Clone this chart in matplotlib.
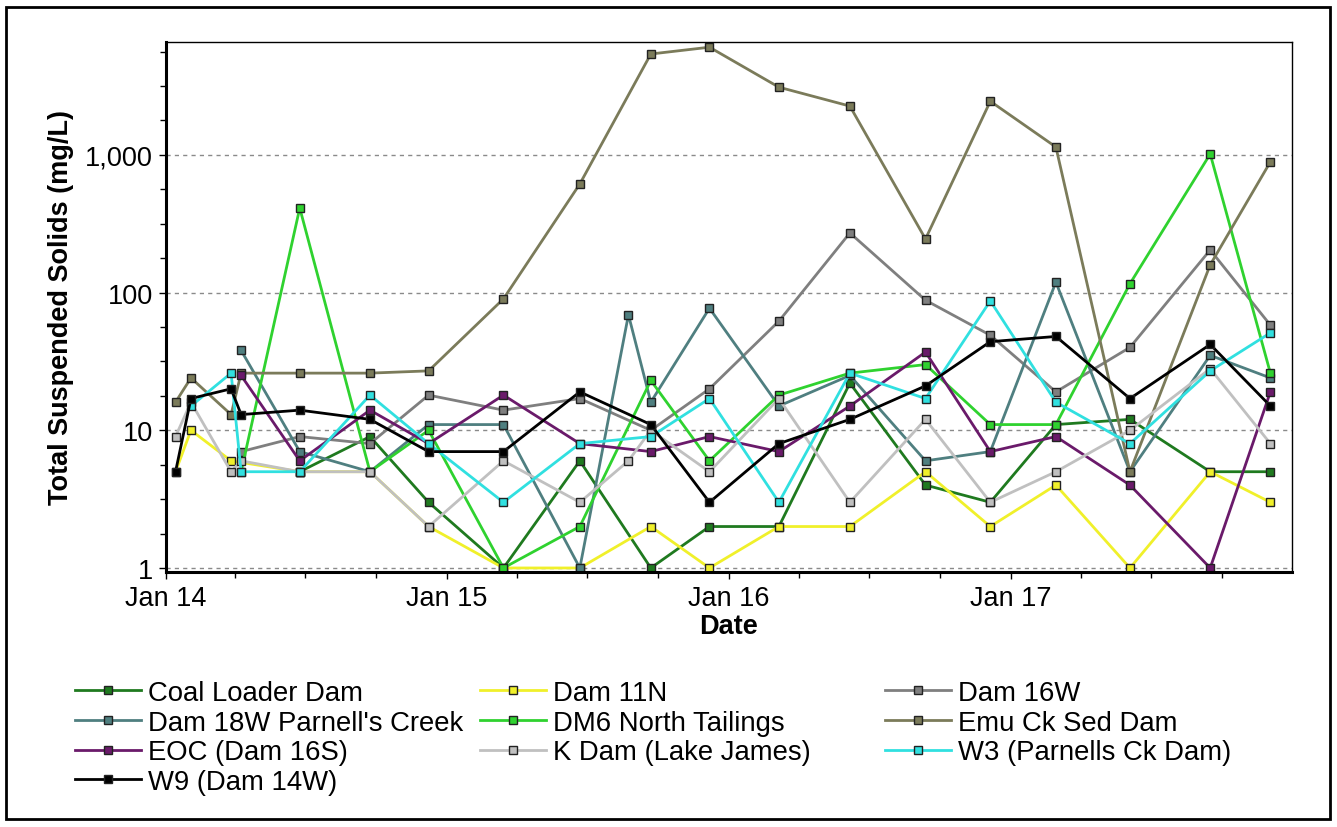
import numpy as np
import pandas as pd
import matplotlib
matplotlib.use('Agg')
import matplotlib.pyplot as plt
import matplotlib.dates as mdates
from matplotlib.ticker import FixedLocator, FuncFormatter, NullFormatter
from matplotlib.patches import Rectangle

plt.rcParams['font.family'] = ['Liberation Sans', 'DejaVu Sans']

# sample dates (not every site sampled every date -> nan)
dates = ['2014-01-14', '2014-02-03', '2014-03-27', '2014-04-09', '2014-06-24',
         '2014-09-23', '2014-12-08', '2015-03-15', '2015-06-22', '2015-08-24',
         '2015-09-22', '2015-12-07', '2016-03-06', '2016-06-06', '2016-09-12',
         '2016-12-05', '2017-02-28', '2017-06-04', '2017-09-16', '2017-12-03']
nan = np.nan

coal_loader = [nan, nan, nan, nan, 5, 9, 3, 1, 6, nan, 1, 2, 2, 22, 4, 3, 11, 12, 5, 5]
dam_11n = [5, 10, 6, nan, 5, 5, 2, 1, 1, nan, 2, 1, 2, 2, 5, 2, 4, 1, 5, 3]
dam_16w = [nan, nan, nan, 7, 9, 8, 18, 14, 17, nan, 10, 20, 62, 271, 88, 49, 19, 40, 204, 58]
dam_18w = [nan, nan, nan, 38, 7, 5, 11, 11, 1, 69, 16, 77, 15, 25, 6, 7, 119, 5, 35, 24]
dm6 = [nan, nan, nan, 5, 411, 5, 10, 1, 2, nan, 23, 6, 18, 26, 30, 11, 11, 116, 1015, 26]
emu = [16, 24, 13, 26, 26, 26, 27, 90, 615, nan, 5400, 6050, 3100, 2260, 245, 2450, 1140, 5, 159, 890]
eoc = [nan, nan, nan, 25, 6, 14, 8, 18, 8, nan, 7, 9, 7, 15, 37, 7, 9, 4, 1, 19]
k_dam = [9, 16, 5, 6, 5, 5, 2, 6, 3, 6, 10, 5, 17, 3, 12, 3, 5, 10, 28, 8]
w3 = [nan, 15, 26, 5, 5, 18, 8, 3, 8, nan, 9, 17, 3, 26, 17, 87, 16, 8, 27, 51]
w9 = [5, 17, 20, 13, 14, 12, 7, 7, 19, nan, 11, 3, 8, 12, 21, 44, 48, 17, 42, 15]

names = ['Coal Loader Dam', 'Dam 11N', 'Dam 16W', "Dam 18W Parnell's Creek",
         'DM6 North Tailings', 'Emu Ck Sed Dam', 'EOC (Dam 16S)',
         'K Dam (Lake James)', 'W3 (Parnells Ck Dam)', 'W9 (Dam 14W)']
series = [coal_loader, dam_11n, dam_16w, dam_18w, dm6, emu, eoc, k_dam, w3, w9]
colors = ['#1f7a1f', '#f0f02a', '#7f7f7f', '#4f7f80', '#2fd22f',
          '#7b7b5a', '#6a1a6a', '#c0c0c0', '#30e0e0', '#000000']

yticks = [1, 10, 100, 1000]

W, H = 1337, 828
fig = plt.figure(figsize=(W / 100, H / 100), dpi=100)
ax = fig.add_axes([165.5 / W, (H - 573) / H, (1292 - 165.5) / W, (573 - 43) / H])

x = pd.to_datetime(dates)
handles = []
for name, vals, c in zip(names, series, colors):
    v = np.array(vals, dtype=float)
    ok = np.isfinite(v)
    h, = ax.plot(x[ok], v[ok], color=c, lw=2, marker='s', ms=5.5,
                 mfc=c, mec='#222222', mew=1, label=name)
    handles.append(h)

ax.set_yscale('log')
ax.set_ylim(0.935, 6600)
ax.set_xlim(pd.Timestamp('2014-01-01'), pd.Timestamp('2017-12-31'))

ax.yaxis.set_major_locator(FixedLocator(yticks))
ax.yaxis.set_major_formatter(FuncFormatter(lambda v, p: '{:,.0f}'.format(v)))
minor = [10 ** (k + f) for k in range(-1, 4) for f in (0.25, 0.5, 0.75)]
ax.yaxis.set_minor_locator(FixedLocator(minor))
ax.yaxis.set_minor_formatter(NullFormatter())
ax.grid(axis='y', which='major', color='#8a8a8a', lw=1, ls=(0, (3, 3)))

ax.xaxis.set_major_locator(mdates.YearLocator())
ax.xaxis.set_major_formatter(mdates.DateFormatter('%b %y'))
ax.xaxis.set_minor_locator(mdates.MonthLocator(bymonth=[4, 7, 10]))

ax.tick_params(which='major', labelsize=19.5, length=5, width=1, pad=4)
ax.tick_params(which='minor', length=4, width=1)

for s in ['left', 'bottom']:
    ax.spines[s].set_linewidth(2.2)
for s in ['top', 'right']:
    ax.spines[s].set_linewidth(1)

ax.set_ylabel('Total Suspended Solids (mg/L)', fontsize=19.5, fontweight='bold', labelpad=8)
ax.set_xlabel('Date', fontsize=19.5, fontweight='bold', labelpad=2)

# legend: 3 fixed-width columns, filled row by row
col_x = [75, 480, 885]
for j in range(3):
    hs = handles[j::3]
    fig.legend(handles=hs, labels=[h.get_label() for h in hs], loc='upper left',
               bbox_to_anchor=(col_x[j] / W, (H - 681) / H), frameon=False,
               fontsize=19.8, handlelength=2.4, handletextpad=0.25,
               labelspacing=0.13, borderaxespad=0, borderpad=0)

fig.patches.append(Rectangle((6 / W, 8 / H), 1324 / W, 812 / H, transform=fig.transFigure,
                             fill=False, ec='black', lw=2))

fig.savefig('out.png', dpi=100)
